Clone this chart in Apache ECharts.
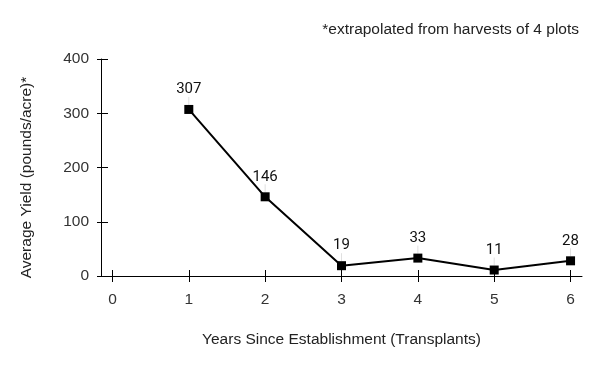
<!DOCTYPE html>
<html><head><meta charset="utf-8">
<script src="https://cdn.jsdelivr.net/npm/echarts@6/dist/echarts.min.js"></script>
<style>html,body{margin:0;padding:0;background:#fff}#c{width:600px;height:371px}</style>
</head><body><div id="c"></div>
<script>
const years = [1, 2, 3, 4, 5, 6];
const yields = [307, 146, 19, 33, 11, 28];
const xTicks = [0, 1, 2, 3, 4, 5, 6];
const yTicks = [0, 100, 200, 300, 400];
const xTitle = 'Years Since Establishment (Transplants)';
const yTitle = 'Average Yield (pounds/acre)*';
const note = '*extrapolated from harvests of 4 plots';

const chart = echarts.init(document.getElementById('c'), null, {renderer: 'canvas'});
const font = '"Liberation Sans", Arial, sans-serif';
const fs = 15.5;
const xBase = {type: 'value', min: -0.15, max: 6.15, splitLine: {show: false}};
const yBase = {type: 'value', min: 0, max: 400, interval: 100, splitLine: {show: false}};
chart.setOption({
  animation: false,
  grid: {left: 101, right: 18, top: 59, bottom: 95},
  title: {text: note, right: 16, top: 17, textStyle: {fontFamily: font, fontSize: fs, fontWeight: 'normal', color: '#222'}},
  xAxis: [
    Object.assign({}, xBase, {
      name: xTitle, nameLocation: 'middle', nameGap: 56,
      nameTextStyle: {fontFamily: font, fontSize: fs, color: '#222'},
      axisLine: {onZero: false, lineStyle: {color: '#000', width: 1}},
      axisTick: {show: true, length: 6, customValues: xTicks, lineStyle: {color: '#000'}},
      axisLabel: {customValues: xTicks, margin: 16, fontFamily: font, fontSize: fs, color: '#333'}
    }),
    Object.assign({}, xBase, {
      position: 'bottom',
      axisLine: {show: false, onZero: false},
      axisTick: {show: true, inside: true, length: 6, customValues: xTicks, lineStyle: {color: '#000'}},
      axisLabel: {show: false}
    })
  ],
  yAxis: [
    Object.assign({}, yBase, {
      name: yTitle, nameLocation: 'middle', nameGap: 66,
      nameTextStyle: {fontFamily: font, fontSize: fs, color: '#222', padding: [0, 20, 0, 0]},
      axisLine: {show: true, onZero: false, lineStyle: {color: '#000', width: 1}},
      axisTick: {show: true, length: 4, lineStyle: {color: '#000'}},
      axisLabel: {margin: 12, fontFamily: font, fontSize: fs, color: '#333',
        formatter: v => yTicks.includes(v) ? String(v) : ''}
    }),
    Object.assign({}, yBase, {
      position: 'left',
      axisLine: {show: false, onZero: false},
      axisTick: {show: true, inside: true, length: 7, lineStyle: {color: '#000'}},
      axisLabel: {show: false}
    })
  ],
  series: [{
    type: 'line',
    data: years.map((x, i) => [x, yields[i]]),
    symbol: 'rect', symbolSize: 9,
    itemStyle: {color: '#000'},
    lineStyle: {color: '#000', width: 2},
    label: {show: true, position: 'top', distance: 6, fontFamily: 'Roboto, sans-serif', fontSize: 15, color: '#111'},
    labelLayout: {dy: -2},
    labelLine: {show: true, lineStyle: {color: '#e0e0e0', width: 1}}
  }]
});
</script></body></html>
